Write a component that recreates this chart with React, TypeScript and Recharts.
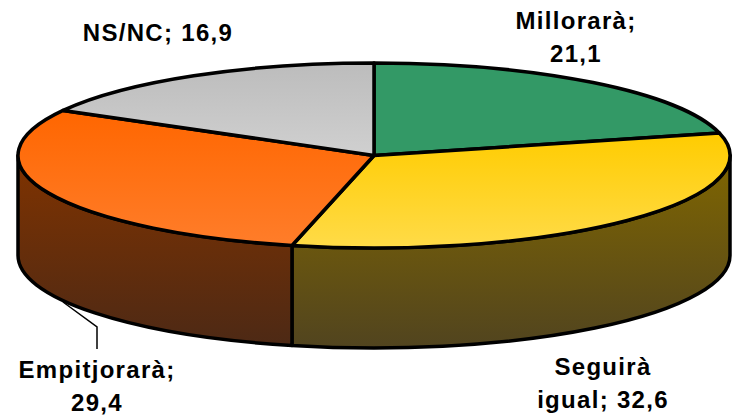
import { Pie, PieChart } from "recharts";

const categories = ["Millorarà", "Seguirà igual", "Empitjorarà", "NS/NC"];
const values = [21.1, 32.6, 29.4, 16.9];
const valueLabels = ["21,1", "32,6", "29,4", "16,9"];

// label text broken the way the original wraps it
const labelLines = [
  ["Millorarà;", "21,1"],
  ["Seguirà", "igual; 32,6"],
  ["Empitjorarà;", "29,4"],
  ["NS/NC; 16,9"],
];
const labelAnchors = [
  { x: 576, y: 29 },
  { x: 603, y: 375 },
  { x: 97, y: 378 },
  { x: 158, y: 41 },
];
const LINE_HEIGHT = 33;

const topColors = [
  ["#339966", "#339966"],
  ["#FFCC00", "#FFDB48"],
  ["#FF6600", "#FF7D2A"],
  ["#BCBCBC", "#D0D0D0"],
];
const wallColors = [
  ["#1A4D33", "#1A4D33"],
  ["#806600", "#51441F"],
  ["#803300", "#4D2915"],
  ["#666666", "#666666"],
];

const data = categories.map((name, i) => ({ name, value: values[i], text: valueLabels[i] }));

const CX = 374;
const CY = 155.5;
const RX = 356;
const RY = 92.5;
const DEPTH = 100;

const px = (a: number) => CX + RX * Math.cos((a * Math.PI) / 180);
const py = (a: number) => CY - RY * Math.sin((a * Math.PI) / 180);

function TopSlice(props: any) {
  const { startAngle, endAngle, index } = props;
  const large = Math.abs(startAngle - endAngle) > 180 ? 1 : 0;
  const d = `M${CX},${CY} L${px(startAngle)},${py(startAngle)} A${RX},${RY} 0 ${large} 1 ${px(endAngle)},${py(endAngle)} Z`;
  return <path d={d} fill={`url(#top${index})`} stroke="#000" strokeWidth={3.5} strokeLinejoin="round" />;
}

// only the part of the rim in the lower half of the ellipse can be seen
function WallSlice(props: any) {
  const { startAngle, endAngle, index } = props;
  const a0 = Math.min(startAngle, 0);
  const a1 = Math.max(endAngle, -180);
  if (a0 <= a1) return null;
  const d =
    `M${px(a0)},${py(a0)} A${RX},${RY} 0 0 1 ${px(a1)},${py(a1)} ` +
    `L${px(a1)},${py(a1) + DEPTH} A${RX},${RY} 0 0 0 ${px(a0)},${py(a0) + DEPTH} Z`;
  return <path d={d} fill={`url(#wall${index})`} stroke="#000" strokeWidth={3.5} strokeLinejoin="round" />;
}

function SliceLabel(props: any) {
  const { index } = props;
  const pos = labelAnchors[index];
  return (
    <g>
      {index === 2 && <polyline points="63,302 97,327 97,349" fill="none" stroke="#000" strokeWidth={1.5} />}
      <text
        x={pos.x}
        y={pos.y}
        textAnchor="middle"
        fontFamily="'Liberation Sans', Arial, sans-serif"
        fontWeight="bold"
        fontSize={24}
        letterSpacing={1.3}
        fill="#000"
      >
        {labelLines[index].map((line, i) => (
          <tspan key={line} x={pos.x} y={pos.y + i * LINE_HEIGHT}>
            {line}
          </tspan>
        ))}
      </text>
    </g>
  );
}

export default function App() {
  return (
    <div style={{ position: "absolute", left: 0, top: 0, background: "#fff" }}>
      <PieChart width={734} height={419} margin={{ top: 0, right: 0, bottom: 0, left: 0 }}>
        <defs>
          {topColors.map(([from, to], i) => (
            <linearGradient key={`top${i}`} id={`top${i}`} x1="0" y1="0" x2="0" y2="1">
              <stop offset="0%" stopColor={from} />
              <stop offset="100%" stopColor={to} />
            </linearGradient>
          ))}
          {wallColors.map(([from, to], i) => (
            <linearGradient key={`wall${i}`} id={`wall${i}`} x1="0" y1="0" x2="0" y2="1">
              <stop offset="0%" stopColor={from} />
              <stop offset="100%" stopColor={to} />
            </linearGradient>
          ))}
        </defs>
        <Pie
          data={data}
          dataKey="value"
          cx={CX}
          cy={CY}
          outerRadius={RX}
          startAngle={90}
          endAngle={-270}
          shape={WallSlice}
          label={false}
          labelLine={false}
          isAnimationActive={false}
        />
        <Pie
          data={data}
          dataKey="value"
          cx={CX}
          cy={CY}
          outerRadius={RX}
          startAngle={90}
          endAngle={-270}
          shape={TopSlice}
          label={SliceLabel}
          labelLine={false}
          isAnimationActive={false}
        />
      </PieChart>
    </div>
  );
}
